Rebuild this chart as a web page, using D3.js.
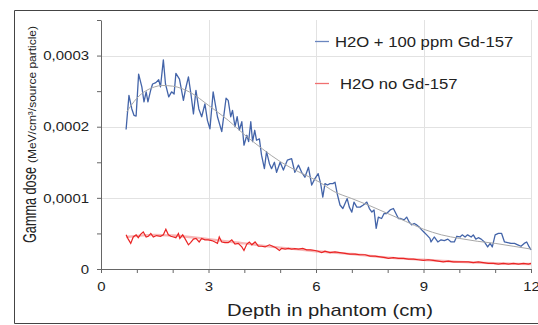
<!DOCTYPE html>
<html>
<head>
<meta charset="utf-8">
<script src="https://d3js.org/d3.v7.min.js"></script>
<style>
  body { margin: 0; background: #fff; }
  svg { display: block; }
  text { font-family: "Liberation Sans", Arial, sans-serif; fill: #222; }
</style>
</head>
<body>
<svg id="chart"></svg>
<script>
// dose values are in units of 1e-4 MeV/cm³/source particle
const blueDepth = [0.70,0.78,0.86,0.92,0.98,1.05,1.14,1.20,1.26,1.31,1.39,1.44,1.53,1.61,1.66,1.74,1.80,1.89,1.97,2.04,
  2.09,2.19,2.30,2.36,2.44,2.51,2.58,2.65,2.73,2.81,2.90,2.97,3.04,3.13,3.25,3.37,3.49,3.55,3.62,3.67,
  3.74,3.80,3.86,3.93,3.99,4.07,4.12,4.18,4.23,4.29,4.34,4.42,4.48,4.56,4.62,4.70,4.76,4.84,4.90,5.00,
  5.09,5.20,5.32,5.41,5.51,5.60,5.69,5.79,5.88,5.97,6.06,6.13,6.19,6.25,6.32,6.39,6.47,6.53,6.60,6.67,
  6.75,6.81,6.87,6.93,7.00,7.06,7.14,7.23,7.32,7.42,7.49,7.56,7.62,7.68,7.74,7.83,7.90,7.97,8.07,8.16,
  8.23,8.30,8.36,8.46,8.53,8.60,8.67,8.74,8.81,8.88,8.95,9.01,9.09,9.18,9.21,9.30,9.40,9.49,9.58,9.68,
  9.77,9.86,9.93,10.02,10.08,10.16,10.23,10.33,10.39,10.46,10.53,10.61,10.70,10.79,10.86,10.92,11.00,11.09,11.18,11.26,
  11.35,11.44,11.54,11.63,11.72,11.81,11.88,11.95,12.00];
const blueDose = [1.96,2.44,2.25,2.16,2.15,2.74,2.56,2.35,2.49,2.35,2.52,2.60,2.62,2.66,2.56,2.94,2.60,2.42,2.49,2.46,
  2.75,2.67,2.37,2.53,2.70,2.46,2.18,2.51,2.25,2.14,2.32,2.09,1.97,2.49,2.14,1.93,2.40,2.37,2.14,2.23,
  2.00,2.14,1.95,2.07,1.74,1.88,1.79,2.07,1.79,1.95,1.81,1.83,1.60,1.41,1.65,1.48,1.41,1.50,1.36,1.50,
  1.39,1.53,1.55,1.36,1.46,1.36,1.29,1.43,1.18,1.27,1.34,1.20,1.01,1.20,1.18,1.20,1.20,1.22,1.04,0.90,
  0.85,0.92,0.99,0.87,0.80,0.94,0.87,0.87,0.90,0.94,0.85,0.80,0.83,0.57,0.73,0.71,0.78,0.78,0.83,0.85,
  0.78,0.71,0.71,0.69,0.73,0.66,0.62,0.64,0.62,0.59,0.55,0.52,0.48,0.43,0.38,0.45,0.38,0.41,0.40,0.42,
  0.38,0.38,0.46,0.45,0.48,0.45,0.48,0.45,0.48,0.42,0.44,0.42,0.38,0.31,0.36,0.31,0.48,0.50,0.50,0.38,
  0.37,0.36,0.36,0.34,0.32,0.36,0.38,0.31,0.27];

const blueFitDepth = [0.72,1.0,1.5,1.7,2.0,2.5,3.0,3.55,4.0,4.5,5.0,5.5,6.1,6.5,7.0,7.5,8.0,8.5,9.0,9.5,10.0,10.5,11.0,11.5,12.0];
const blueFitDose = [2.21,2.40,2.56,2.58,2.57,2.48,2.30,2.09,1.89,1.69,1.51,1.37,1.22,1.09,0.99,0.89,0.78,0.67,0.56,0.48,0.43,0.39,0.36,0.32,0.28];

const redDepth = [0.70,0.76,0.83,0.90,0.98,1.04,1.11,1.18,1.26,1.32,1.39,1.46,1.55,1.66,1.74,1.81,1.88,1.95,2.02,2.09,
  2.16,2.20,2.28,2.34,2.44,2.50,2.58,2.65,2.74,2.81,2.90,2.99,3.09,3.18,3.25,3.30,3.37,3.46,3.55,3.65,
  3.74,3.83,3.93,3.99,4.07,4.14,4.21,4.30,4.39,4.48,4.58,4.70,4.79,4.88,4.98,5.04,5.14,5.23,5.32,5.41,
  5.51,5.63,5.74,5.85,5.97,6.06,6.16,6.25,6.39,6.53,6.67,6.81,6.95,7.09,7.23,7.37,7.51,7.65,7.79,7.93,
  8.02,8.16,8.30,8.44,8.58,8.72,8.86,9.00,9.13,9.27,9.41,9.55,9.69,9.83,9.97,10.11,10.25,10.39,10.53,10.67,
  10.81,10.95,11.09,11.23,11.37,11.51,11.65,11.79,11.93,12.00];
const redDose = [0.48,0.42,0.36,0.45,0.48,0.44,0.49,0.52,0.45,0.46,0.50,0.45,0.47,0.46,0.48,0.56,0.48,0.46,0.45,0.44,
  0.50,0.43,0.48,0.43,0.34,0.37,0.42,0.43,0.38,0.43,0.41,0.41,0.40,0.38,0.36,0.45,0.38,0.37,0.37,0.41,
  0.35,0.36,0.31,0.26,0.35,0.38,0.34,0.38,0.32,0.32,0.31,0.34,0.32,0.30,0.26,0.29,0.28,0.29,0.28,0.285,
  0.28,0.29,0.27,0.27,0.26,0.25,0.23,0.25,0.23,0.24,0.23,0.22,0.21,0.21,0.20,0.20,0.18,0.18,0.17,0.16,
  0.15,0.16,0.15,0.15,0.14,0.14,0.13,0.12,0.13,0.12,0.11,0.10,0.11,0.10,0.10,0.10,0.10,0.09,0.10,0.09,
  0.08,0.08,0.07,0.08,0.07,0.08,0.07,0.08,0.07,0.08];

const redFitDepth = [0.7,1.5,2.0,3.0,4.0,5.0,6.0,7.0,8.0,9.0,10.0,11.0,12.0];
const redFitDose = [0.45,0.48,0.47,0.42,0.36,0.30,0.25,0.21,0.16,0.13,0.10,0.08,0.07];

const seriesNames = ["H2O + 100 ppm Gd-157", "H2O no Gd-157"];
const xTickValues = [0, 3, 6, 9, 12];
const yTickValues = [0, 1, 2, 3];
const yTickLabels = ["0", "0,0001", "0,0002", "0,0003"];

const width = 538, height = 325;

const svg = d3.select("#chart").attr("width", width).attr("height", height);

// outer frame (right side is cropped off in the source)
svg.append("path")
  .attr("d", "M545,10.5H14.5V323.5H545")
  .attr("fill", "none").attr("stroke", "#444").attr("stroke-width", 1);

const x = d3.scaleLinear().domain([0, 12]).range([101, 531]);
const y = d3.scaleLinear().domain([0, 3.5]).range([269, 20]);

// the source picture is a bit wider than tall, so its text looks widened
function widen(sel, k) {
  sel.each(function () {
    const w = this.getComputedTextLength();
    d3.select(this).attr("textLength", w * k).attr("lengthAdjust", "spacingAndGlyphs");
  });
}

// grid
svg.append("g").selectAll("line").data(yTickValues.slice(1)).join("line")
  .attr("x1", x(0)).attr("x2", x(12))
  .attr("y1", d => Math.round(y(d)) + 0.5).attr("y2", d => Math.round(y(d)) + 0.5)
  .attr("stroke", "#e2e2e2");
svg.append("g").selectAll("line").data(xTickValues.slice(1)).join("line")
  .attr("x1", d => Math.round(x(d)) + 0.5).attr("x2", d => Math.round(x(d)) + 0.5)
  .attr("y1", y(3.5)).attr("y2", y(0))
  .attr("stroke", "#e2e2e2");

// axes
const xAxis = d3.axisBottom(x)
  .tickValues(d3.range(0, 13, 1))
  .tickSize(4).tickSizeOuter(0)
  .tickFormat(d => xTickValues.includes(d) ? d : "");
const gx = svg.append("g").attr("transform", `translate(0,${y(0)})`).call(xAxis);
gx.select(".domain").attr("stroke", "#666");
gx.selectAll(".tick line").attr("stroke", "#666");
gx.selectAll(".tick text")
  .attr("y", 21.5).attr("dy", null)
  .style("font-size", "13px").attr("fill", "#222")
  .call(widen, 1.15);

const yAxis = d3.axisLeft(y)
  .tickValues(d3.range(0, 3.51, 0.5))
  .tickSize(4).tickSizeOuter(0)
  .tickFormat(d => { const i = yTickValues.indexOf(d); return i >= 0 ? yTickLabels[i] : ""; });
const gy = svg.append("g").attr("transform", `translate(${x(0)},0)`).call(yAxis);
gy.select(".domain").attr("stroke", "#666");
gy.selectAll(".tick line").attr("stroke", "#666");
gy.selectAll(".tick text")
  .attr("x", -12)
  .style("font-size", "13px").attr("fill", "#222")
  .call(widen, 1.15);

// lines
const line = d3.line().x(d => x(d[0])).y(d => y(d[1]));
const fitLine = d3.line().curve(d3.curveMonotoneX).x(d => x(d[0])).y(d => y(d[1]));

svg.append("path")
  .datum(d3.zip(redFitDepth, redFitDose))
  .attr("d", fitLine)
  .attr("fill", "none").attr("stroke", "#f07a7a").attr("stroke-width", 2.4).attr("opacity", 0.55);

svg.append("path")
  .datum(d3.zip(redDepth, redDose))
  .attr("d", line)
  .attr("fill", "none").attr("stroke", "#ea2424").attr("stroke-width", 1.2);

svg.append("path")
  .datum(d3.zip(blueDepth, blueDose))
  .attr("d", line)
  .attr("fill", "none").attr("stroke", "#4364a9").attr("stroke-width", 1.3)
  .attr("stroke-linejoin", "round");

svg.append("path")
  .datum(d3.zip(blueFitDepth, blueFitDose))
  .attr("d", fitLine)
  .attr("fill", "none").attr("stroke", "#a8a8a8").attr("stroke-width", 1);

// legend
const legendColors = ["#6a86bf", "#f07070"];
const legendY = [41.5, 83.5];
const legendTextX = [335, 340];
const lg = svg.append("g");
seriesNames.forEach((name, i) => {
  lg.append("line")
    .attr("x1", 315).attr("x2", 329)
    .attr("y1", legendY[i]).attr("y2", legendY[i])
    .attr("stroke", legendColors[i]).attr("stroke-width", 1.3);
  lg.append("text")
    .attr("x", legendTextX[i]).attr("y", legendY[i] + 5.5)
    .style("font-size", "15px")
    .text(name)
    .call(widen, 1.11);
});

// axis titles
svg.append("text")
  .attr("x", 330).attr("y", 316)
  .attr("text-anchor", "middle")
  .style("font-size", "17px")
  .text("Depth in phantom (cm)")
  .call(widen, 1.19);

svg.append("text")
  .attr("transform", "translate(36,243) rotate(-90)")
  .style("font-size", "19px")
  .attr("textLength", 76).attr("lengthAdjust", "spacingAndGlyphs")
  .text("Gamma dose");

svg.append("text")
  .attr("transform", "translate(36,163) rotate(-90)")
  .style("font-size", "11px")
  .attr("textLength", 137).attr("lengthAdjust", "spacingAndGlyphs")
  .text("(MeV/cm³/source particle)");
</script>
</body>
</html>
